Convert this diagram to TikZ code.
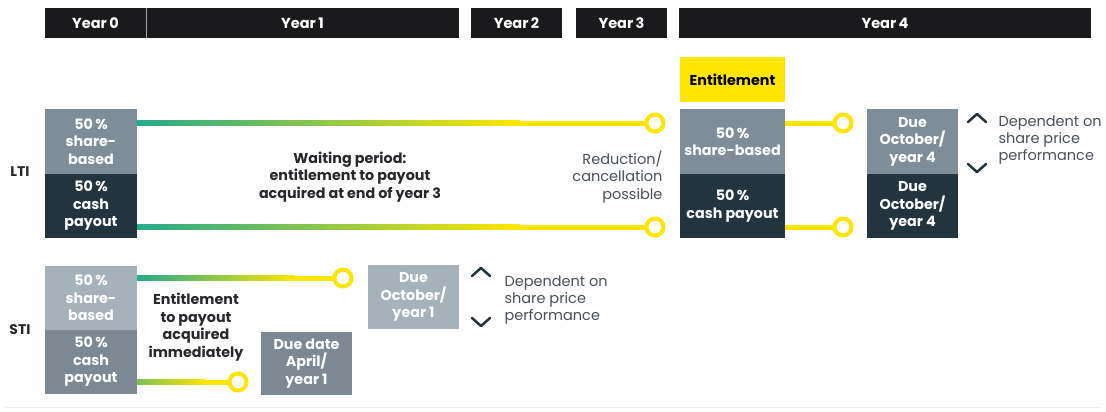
\documentclass[tikz,border=0pt]{standalone}
\usepackage{fontspec}
\setmainfont{Poppins}
\usetikzlibrary{calc}
\definecolor{eyyellow}{RGB}{255,230,0}
\definecolor{barblack}{RGB}{26,26,28}
\definecolor{slatemid}{RGB}{126,141,151}
\definecolor{slatedark}{RGB}{35,52,62}
\definecolor{slatelight}{RGB}{166,178,185}
\definecolor{slategrey}{RGB}{124,137,146}
\definecolor{eyteal}{RGB}{36,170,140}
\definecolor{inkdark}{RGB}{38,40,44}
\definecolor{inkgrey}{RGB}{72,80,88}
\begin{document}
\begin{tikzpicture}[x=1pt, y=-1pt, line join=round,
  yearbar/.style={fill=barblack, text=white, anchor=north west, inner sep=0pt, outer sep=0pt, minimum height=30pt, font=\fontsize{14.5}{16}\selectfont\bfseries},
  paybox/.style={anchor=north west, inner sep=0pt, outer sep=0pt, text=white, align=center, font=\fontsize{14.3}{17.5}\selectfont\bfseries},
  ring/.style={circle, draw=eyyellow, line width=4pt, fill=white, minimum size=17pt, inner sep=0pt},
  yline/.style={eyyellow, line width=5pt},
  note/.style={text=inkgrey, font=\fontsize{14.5}{17.2}\selectfont},
  boldnote/.style={text=inkdark, align=center, font=\fontsize{14.3}{17.5}\selectfont\bfseries},
  rowlabel/.style={text=inkdark, font=\fontsize{14}{16}\selectfont\bfseries},
  chev/.style={draw=slatedark, line width=2.5pt, line cap=round}]
\useasboundingbox (0,0) rectangle (1106,412);
% Year bars
\node[yearbar, minimum width=101pt] (y0) at (45,8) {Year\,0};
\node[yearbar, minimum width=313pt] (y1) at (146,8) {Year\,1};
\node[yearbar, minimum width=91pt] (y2) at (471,8) {Year\,2};
\node[yearbar, minimum width=91pt] (y3) at (576,8) {Year\,3};
\node[yearbar, minimum width=412pt] (y4) at (679,8) {Year\,4};
\draw[gray!70, line width=0.6pt] (y0.north east) -- (y0.south east);
% LTI: starting boxes
\node[rowlabel] (lti) at (20,172) {LTI};
\node[paybox, fill=slatemid, minimum width=92pt, minimum height=65pt] (ltishare) at (45,109) {50\,\%\\share-\\based};
\node[paybox, fill=slatedark, minimum width=92pt, minimum height=64pt] (lticash) at (45,174) {50\,\%\\cash\\payout};
% LTI: waiting period lines
\node[ring] (ltiring1) at (655,123) {};
\node[ring] (ltiring2) at (655,227) {};
\coordinate (ltifade1) at (520,123);
\coordinate (ltifade2) at (520,227);
\draw[yline] (ltishare.east |- ltiring1) -- (ltiring1);
\draw[yline] (lticash.east |- ltiring2) -- (ltiring2);
\shade[left color=eyteal, right color=eyyellow] ($(ltishare.east |- ltifade1)+(0,-2.5)$) rectangle ($(ltifade1)+(0,2.5)$);
\shade[left color=eyteal, right color=eyyellow] ($(lticash.east |- ltifade2)+(0,-2.5)$) rectangle ($(ltifade2)+(0,2.5)$);
\node[boldnote] (wait) at (350,177) {Waiting period:\\entitlement to payout\\acquired at end of year 3};
\node[note, align=right, anchor=east] (reduce) at (666,177) {Reduction/\\cancellation\\possible};
% LTI: year 4
\node[paybox, fill=eyyellow, text=black, minimum width=105pt, minimum height=45pt] (entitle) at (680,57) {Entitlement};
\node[paybox, fill=slatemid, minimum width=105pt, minimum height=65pt] (ltishare4) at (680,109) {50\,\%\\share-based};
\node[paybox, fill=slatedark, minimum width=105pt, minimum height=64pt] (lticash4) at (680,174) {50\,\%\\cash payout};
\node[ring] (ltiring3) at (843,123) {};
\node[ring] (ltiring4) at (843,227) {};
\draw[yline] (ltishare4.east |- ltiring3) -- (ltiring3);
\draw[yline] (lticash4.east |- ltiring4) -- (ltiring4);
\node[paybox, fill=slatemid, minimum width=91pt, minimum height=65pt] (ltidue1) at (867,109) {Due\\October/\\year 4};
\node[paybox, fill=slatedark, minimum width=91pt, minimum height=64pt] (ltidue2) at (867,174) {Due\\October/\\year 4};
\draw[chev] (968,122) -- (977,114) -- (986,122);
\draw[chev] (968,164) -- (977,172) -- (986,164);
\node[note, anchor=west, align=left] (ltidep) at (995,140) {Dependent on\\share price\\performance};
% STI
\node[rowlabel] (sti) at (20,330) {STI};
\node[paybox, fill=slatelight, minimum width=92pt, minimum height=64pt] (stishare) at (45,266) {50\,\%\\share-\\based};
\node[paybox, fill=slategrey, minimum width=92pt, minimum height=64pt] (sticash) at (45,330) {50\,\%\\cash\\payout};
\node[ring] (stiring1) at (343,278) {};
\node[ring] (stiring2) at (238,382) {};
\coordinate (stifade1) at (295,278);
\coordinate (stifade2) at (205,382);
\draw[yline] (stishare.east |- stiring1) -- (stiring1);
\draw[yline] (sticash.east |- stiring2) -- (stiring2);
\shade[left color=eyteal, right color=eyyellow] ($(stishare.east |- stifade1)+(0,-2.5)$) rectangle ($(stifade1)+(0,2.5)$);
\shade[left color=eyteal!60!eyyellow, right color=eyyellow] ($(sticash.east |- stifade2)+(0,-2.5)$) rectangle ($(stifade2)+(0,2.5)$);
\node[boldnote] (stiimm) at (196,327) {Entitlement\\to payout\\acquired\\immediately};
\node[paybox, fill=slatelight, minimum width=91pt, minimum height=64pt] (stidueoct) at (368,265) {Due\\October/\\year 1};
\node[paybox, fill=slategrey, minimum width=91pt, minimum height=63pt] (stidueapr) at (261,332) {Due date\\April/\\year 1};
\draw[chev] (472,276) -- (481,268) -- (490,276);
\draw[chev] (472,318) -- (481,326) -- (490,318);
\node[note, anchor=west, align=left] (stidep) at (501,300) {Dependent on\\share price\\performance};
% faint rule at the bottom
\draw[gray!12, line width=1pt] (5,407) -- (1100,407);
\end{tikzpicture}
\end{document}
